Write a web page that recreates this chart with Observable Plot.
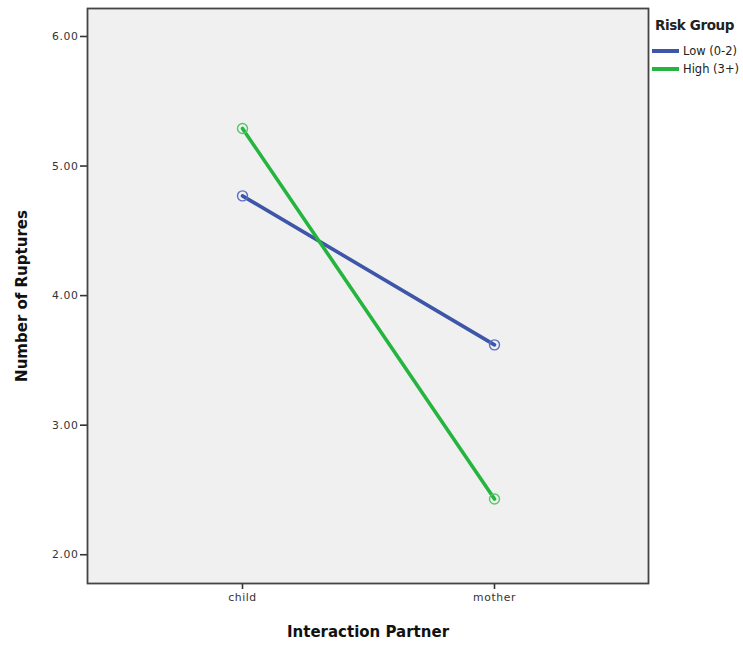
<!DOCTYPE html>
<html>
<head>
<meta charset="utf-8">
<script src="https://cdn.jsdelivr.net/npm/d3@7"></script>
<script src="https://cdn.jsdelivr.net/npm/@observablehq/plot@0.6"></script>
<style>
  body { margin: 0; background: #fff; }
  #wrap { position: relative; width: 743px; height: 646px; font-family: "DejaVu Sans", sans-serif; }
  #legend { position: absolute; left: 652px; top: 17px; font-size: 11.5px; color: #222; }
  #legend .title { font-weight: bold; font-size: 13.5px; margin-left: 3px; margin-bottom: 9px; letter-spacing: -0.4px; }
  #legend .item { display: flex; align-items: center; height: 18px; }
  #legend .sw { width: 27px; height: 4px; margin-right: 4px; }
  svg g[aria-label="y-axis tick label"] text, svg g[aria-label="x-axis tick label"] text { letter-spacing: 0.6px; }
</style>
</head>
<body>
<div id="wrap"></div>
<script>
const partners = ["child", "mother"];
const groups = ["Low (0-2)", "High (3+)"];
const lowValues = [4.77, 3.62];
const highValues = [5.29, 2.43];
const yTicks = [2, 3, 4, 5, 6];
const lineColors = ["#3d56a8", "#25b53f"];
const markerColors = ["#5b70c4", "#55c866"];
const xTitle = "Interaction Partner";
const yTitle = "Number of Ruptures";

const data = [];
partners.forEach((p, i) => {
  data.push({partner: p, group: groups[0], value: lowValues[i]});
  data.push({partner: p, group: groups[1], value: highValues[i]});
});

const chart = Plot.plot({
  width: 743,
  height: 646,
  marginLeft: 87,
  marginRight: 95,
  marginTop: 8,
  marginBottom: 63,
  style: {fontFamily: "DejaVu Sans, sans-serif", fontSize: "10.8px", color: "#333", background: "#fff"},
  x: {type: "point", domain: partners, padding: 0.609, label: null},
  y: {domain: [1.778, 6.216], label: null},
  color: {domain: groups, range: lineColors},
  marks: [
    Plot.frame({fill: "#f0f0f0", stroke: "none"}),
    Plot.axisY({ticks: yTicks, tickFormat: d3.format(".2f"), tickSize: 7, tickPadding: 2, strokeWidth: 1.6, stroke: "#333", label: null}),
    Plot.axisX({tickSize: 6, tickPadding: 4, strokeWidth: 1.6, stroke: "#333", label: null}),
    Plot.line(data, {x: "partner", y: "value", z: "group", stroke: "group", strokeWidth: 3.6}),
    Plot.dot(data, {x: "partner", y: "value", r: 5, stroke: d => markerColors[groups.indexOf(d.group)], strokeWidth: 1.4, fill: "none"}),
    Plot.frame({stroke: "#444", strokeWidth: 1.8}),
    Plot.text([yTitle], {frameAnchor: "left", text: d => d, rotate: -90, dx: -65, textAnchor: "middle", lineAnchor: "middle", fontSize: 15, fontWeight: "bold", fill: "#111"}),
    Plot.text([xTitle], {frameAnchor: "bottom", text: d => d, dy: 49, textAnchor: "middle", lineAnchor: "middle", fontSize: 15, fontWeight: "bold", fill: "#111"})
  ]
});

const wrap = document.getElementById("wrap");
wrap.appendChild(chart);

const legend = document.createElement("div");
legend.id = "legend";
legend.innerHTML = `<div class="title">Risk Group</div>` +
  groups.map((g, i) => `<div class="item"><div class="sw" style="background:${lineColors[i]}"></div><span>${g}</span></div>`).join("");
wrap.appendChild(legend);
</script>
</body>
</html>
